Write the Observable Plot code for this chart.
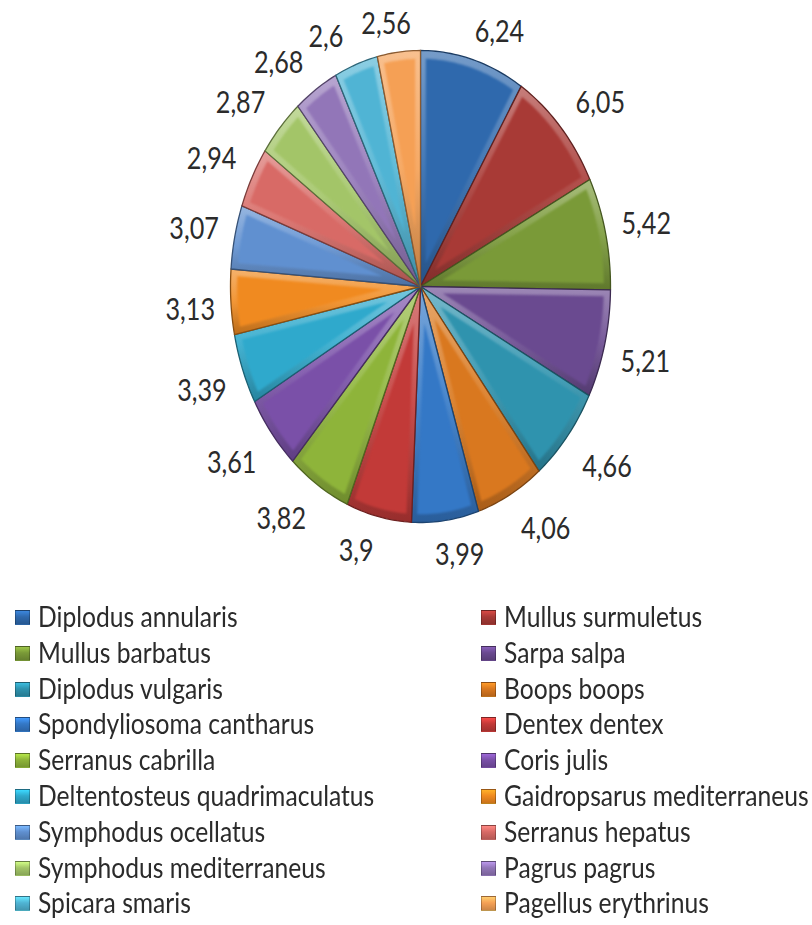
<!DOCTYPE html>
<html>
<head>
<meta charset="utf-8">
<script src="https://cdn.jsdelivr.net/npm/d3@7"></script>
<script src="https://cdn.jsdelivr.net/npm/@observablehq/plot@0.6"></script>
<style>
  html, body { margin: 0; padding: 0; background: #fff; }
  #chart svg { display: block; }
  #legend { display: grid; grid-template-columns: 466px 346px; grid-auto-rows: 35.8px;
    padding-top: 4px; font-family: Lato, sans-serif; font-size: 28px; color: #2b2b2b; }
  .item { position: relative; height: 35.8px; line-height: 35.8px; white-space: nowrap; }
  .sw { position: absolute; left: 15px; top: 11px; width: 15px; height: 15px; box-sizing: border-box; border: 1px solid rgba(0,0,0,.25); }
  .lb { position: absolute; left: 38px; top: 0; transform: scaleX(0.88); transform-origin: 0 50%; filter: blur(0.35px); }
</style>
</head>
<body>
<div id="chart"></div>
<div id="legend"></div>
<script>
const species = ["Diplodus annularis","Mullus surmuletus","Mullus barbatus","Sarpa salpa","Diplodus vulgaris","Boops boops","Spondyliosoma cantharus","Dentex dentex","Serranus cabrilla","Coris julis","Deltentosteus quadrimaculatus","Gaidropsarus mediterraneus","Symphodus ocellatus","Serranus hepatus","Symphodus mediterraneus","Pagrus pagrus","Spicara smaris","Pagellus erythrinus"];
const values = [6.24,6.05,5.42,5.21,4.66,4.06,3.99,3.9,3.82,3.61,3.39,3.13,3.07,2.94,2.87,2.68,2.6,2.56];
const valueLabels = ["6,24","6,05","5,42","5,21","4,66","4,06","3,99","3,9","3,82","3,61","3,39","3,13","3,07","2,94","2,87","2,68","2,6","2,56"];
const colors = ["#2f69ad","#a83a36","#7a9a38","#6a4a90","#2f93ae","#d9781f","#3478c6","#c23a38","#8eb43a","#7a50a8","#2fa9cc","#f08a20","#6090d0","#d86a66","#a3c568","#9276b8","#50b4d4","#f5a055"];

const RX = 190, RY = 236;
const BEVEL = 0.028, RIM = 0.965;
const total = d3.sum(values);
const cum = d3.cumsum(values);
const angle = v => v / total * 2 * Math.PI;

// Slice outlines and their inset faces, in pie units (radius 1), derived from the values.
const outline = [];
const faces = [];
species.forEach((name, i) => {
  const a0 = angle(i ? cum[i - 1] : 0), a1 = angle(cum[i]);
  const paint = `url(#slice${i})`;
  const edge = d3.color(colors[i]).darker(1.6).formatHex();
  const push = (x, y) => outline.push({name, x, y, paint, edge});
  push(0, 0);
  const n = Math.max(2, Math.ceil((a1 - a0) / 0.02));
  for (let k = 0; k <= n; k++) {
    const a = a0 + (a1 - a0) * k / n;
    push(Math.sin(a), Math.cos(a));
  }
  push(0, 0);

  // inset face: constant-width bevel along both sides and the rim
  const mid = (a0 + a1) / 2, half = (a1 - a0) / 2;
  const apex = BEVEL / Math.sin(half);
  const d = Math.asin(BEVEL / RIM);
  const f = (x, y) => faces.push({name, x, y, base: colors[i]});
  f(apex * Math.sin(mid), apex * Math.cos(mid));
  for (let k = 0; k <= n; k++) {
    const a = a0 + d + (a1 - a0 - 2 * d) * k / n;
    f(RIM * Math.sin(a), RIM * Math.cos(a));
  }
});

// Value labels sit outside the rim, pushed further out where the text box needs it.
const labels = values.map((v, i) => {
  const a = angle(cum[i] - v / 2), s = Math.sin(a), c = Math.cos(a);
  return {
    text: valueLabels[i],
    x: s + 41 * Math.tanh(s * 2.8) / RX,
    y: c + (33 * Math.tanh(c * 1.8) - 4) / RY
  };
});

function gradients() {
  const svg = d3.create("svg:defs");
  colors.forEach((col, i) => {
    const c = d3.color(col);
    const pale = d3.interpolateRgb(col, "#ffffff");
    const g = svg.append("linearGradient").attr("id", `slice${i}`)
      .attr("x1", 0).attr("y1", 0).attr("x2", 0).attr("y2", 1);
    [[0, pale(0.34)], [0.5, pale(0.1)], [1, c.darker(0.7).formatHex()]].forEach(([o, k]) =>
      g.append("stop").attr("offset", o).attr("stop-color", k));
  });
  return svg.node();
}

// Narrow the value labels to match the tall, condensed look of the reference.
function narrowed(index, scales, values, dims, context, next) {
  const g = next(index, scales, values, dims, context);
  d3.select(g).selectAll("text").attr("transform", function () {
    return `${this.getAttribute("transform") || ""} scale(0.84,1)`;
  });
  return g;
}

const chart = Plot.plot({
  width: 812,
  height: 595,
  margin: 0,
  style: {background: "#fff"},
  x: {domain: [-1, 1], range: [420 - RX, 420 + RX], axis: null},
  y: {domain: [-1, 1], range: [286 + RY, 286 - RY], axis: null},
  color: {type: "identity"},
  marks: [
    gradients,
    Plot.line(outline, {x: "x", y: "y", z: "name", fill: "paint", stroke: "edge", strokeWidth: 1.3, curve: "linear"}),
    Plot.line(faces, {x: "x", y: "y", z: "name", fill: "base", stroke: "none", curve: "linear", imageFilter: "blur(1.2px)"}),
    Plot.text(labels, {x: "x", y: "y", text: "text", fontFamily: "Lato, sans-serif", fontSize: 30, fill: "#2b2b2b", render: narrowed})
  ]
});
document.getElementById("chart").append(chart);

const legend = d3.select("#legend");
d3.range(species.length).forEach(i => {
  const c = d3.color(colors[i]);
  const item = legend.append("div").attr("class", "item");
  item.append("span").attr("class", "sw")
    .style("background", `linear-gradient(${c.brighter(0.7).formatHex()}, ${c.formatHex()} 45%, ${c.darker(0.5).formatHex()})`);
  item.append("span").attr("class", "lb").text(species[i]);
});
</script>
</body>
</html>
